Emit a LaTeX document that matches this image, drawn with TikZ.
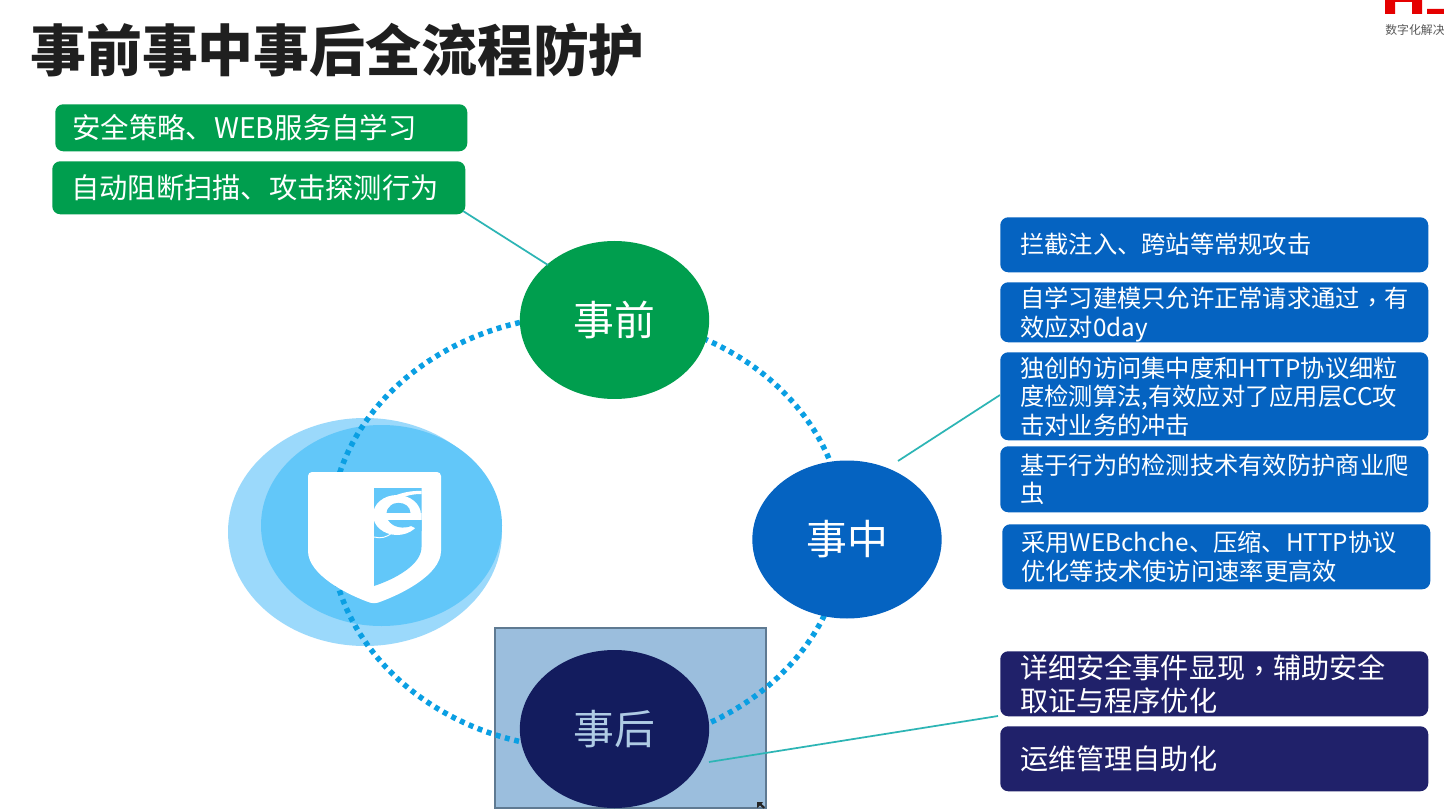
\documentclass[tikz,border=0pt]{standalone}
\usepackage{fontspec}
\setmainfont{Noto Sans CJK SC}
\newfontfamily\tcfont{Noto Sans CJK TC}
\newcommand{\zhcomma}{{\tcfont\raisebox{-2.5pt}{，}}}
\usetikzlibrary{shapes.geometric}
\definecolor{gr}{HTML}{009E4E}
\definecolor{bl}{HTML}{0563C1}
\definecolor{nv}{HTML}{20216A}
\definecolor{nvc}{HTML}{131C5E}
\definecolor{teal1}{HTML}{2DB5B5}
\definecolor{ring}{HTML}{0A9FE3}
\definecolor{sky1}{HTML}{9BD9FB}
\definecolor{sky2}{HTML}{62C7F9}
\definecolor{sel}{HTML}{9BBEDD}
\definecolor{selb}{HTML}{5F7A92}
\tikzset{
  x=.75pt,y=-.75pt,
  pbox/.style={rectangle,rounded corners=6pt,anchor=north west,align=left,inner ysep=0pt,inner xsep=15pt,text=white},
  bigc/.style={ellipse,minimum width=142pt,minimum height=118.5pt,inner sep=0pt,text=white,font=\fontsize{30.6}{32}\selectfont},
  lnk/.style={draw=teal1,line width=1.3pt},
}
\newcommand{\tbox}[8]{%
  \node[pbox,fill=#6,minimum width=#4*.75pt,minimum height=#5*.75pt,text width=#4*.75pt-30pt,
  font=\fontsize{#7}{#8}\selectfont] (#1) at (#2,#3)}
\begin{document}
\begin{tikzpicture}
\useasboundingbox (0,0) rectangle (1444,812);
\clip (0,0) rectangle (1444,812);
\fill[white] (0,0) rectangle (1444,812);
% logo
\fill[red!90!black] (1385,0) rectangle (1395,14) (1395,0) rectangle (1412,2) (1412,0) rectangle (1422,14) (1427,9) rectangle (1444,14);
\node[anchor=west,inner sep=0pt,text=black!65,font=\fontsize{8.9}{10}\selectfont] (logotext) at (1385,30) {数字化解决};
% title
\node[anchor=west,inner sep=0pt,text=black!88,font=\fontsize{41.9}{44}\selectfont\bfseries] (title) at (30,50) {事前事中事后全流程防护};
% emblem
\fill[sky1] (365,532) ellipse [x radius=137,y radius=114];
\fill[sky2] (381.5,525.5) ellipse [x radius=120.5,y radius=100.5];
% selection rectangle
\draw[fill=sel,draw=selb,line width=1.9pt] (495,628) rectangle (766,808);
% ring
\draw[ring,line width=4.1pt,dash pattern=on 3.7pt off 3.5pt] (587,532) ellipse [x radius=257,y radius=217];
% shield
\fill[white,rounded corners=3pt] (308,472) -- (441,472) -- (441,547) .. controls (441,575) and (400,595) .. (374,604) .. controls (348,595) and (308,575) .. (308,547) -- cycle;
\fill[sky2] (374,488) -- (421.5,488) -- (421.5,547) .. controls (421.5,565) and (395,579) .. (374,586) -- cycle;
\begin{scope}
\clip (362,484) rectangle (421.5,545);
\fill[white] (397,515) ellipse [x radius=24,y radius=20];
\fill[sky2] (386.5,513) .. controls (387,499.5) and (410,499.5) .. (410.5,513) -- cycle;
\fill[white] (381,513) rectangle (421.5,520);
\fill[sky2] (388,520) -- (421.5,520) -- (421.5,531) -- (411,526) .. controls (404,529) and (393,528) .. (388,520) -- cycle;
\fill[white] (374,514) .. controls (381,498) and (404,490) .. (421.5,491) -- (421.5,494) .. controls (405,494) and (392,500) .. (384,514) -- cycle;
\draw[white,line width=.7pt] (374,537) .. controls (381,539) and (387,537) .. (392,533);
\end{scope}
% round nodes
\node[bigc,fill=gr] (pre) at (614.5,320) {事前};
\node[bigc,fill=bl] (mid) at (847,539.5) {事中};
\node[bigc,fill=nvc,text=sel!80!white] (post) at (614.5,729) {事后};
% boxes
\tbox{g1}{55}{104}{412}{47}{gr}{21.3}{24} {\hspace*{-2.2pt}安全策略、WEB服务自学习};
\tbox{g2}{52}{161}{413}{53}{gr}{21.2}{24} {\hspace*{-.8pt}自动阻断扫描、攻击探测行为};
\tbox{b1}{1000}{217}{428}{55}{bl}{18.2}{21.4} {拦截注入、跨站等常规攻击};
\tbox{b2}{1000}{282}{428}{60}{bl}{18.2}{21.4} {\rule{0pt}{19pt}自学习建模只允许正常请求通过\zhcomma 有\\效应对0day};
\tbox{b3}{1000}{352}{428}{88}{bl}{18.2}{21.4} {独创的访问集中度和HTTP协议细粒\\度检测算法,有效应对了应用层CC攻\\击对业务的冲击};
\tbox{b4}{1000}{446}{428}{66}{bl}{18.2}{21.4} {基于行为的检测技术有效防护商业爬\\虫};
\tbox{b5}{1002}{524}{428}{65}{bl}{18.2}{21.4} {\hspace*{-.7pt}采用WEBchche、压缩、HTTP协议\\\hspace*{-.7pt}优化等技术使访问速率更高效};
\tbox{n1}{1000}{651}{428}{65}{nv}{21.1}{24.8} {详细安全事件显现\zhcomma 辅助安全\\取证与程序优化};
\tbox{n2}{1000}{726}{428}{65}{nv}{21.1}{24.8} {运维管理自助化};
% connector ends
\coordinate (preEnd) at (548,265);
\coordinate (g2End) at (463,211);
\coordinate (midEnd) at (898,461);
\coordinate (b3End) at (1000,395);
\coordinate (postEnd) at (709,762);
\coordinate (n1End) at (998,716);
\draw[lnk] (g2End) -- (preEnd);
\draw[lnk] (midEnd) -- (b3End);
\draw[lnk] (postEnd) -- (n1End);
% resize handle
\fill[black!85] (757,802) -- (763,802) -- (761.5,804) -- (765,807) -- (763.5,808.5) -- (760,805.5) -- (757,808) -- cycle;
\end{tikzpicture}
\end{document}
